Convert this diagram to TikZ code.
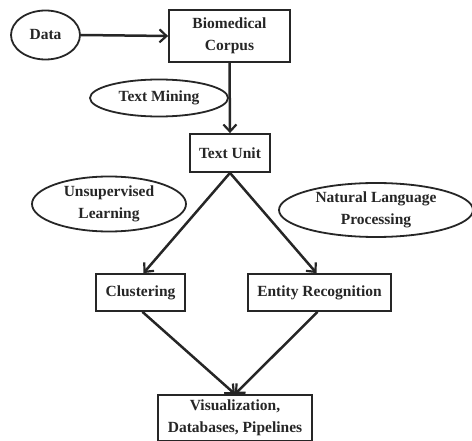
\documentclass[tikz,border=0pt]{standalone}
\usepackage{fontspec}
\setmainfont{Liberation Serif}
\usetikzlibrary{shapes.geometric,arrows.meta}
\begin{document}
\begin{tikzpicture}[x=1pt,y=1pt,
  every node/.style={font=\bfseries\fontsize{15.5}{21.5}\selectfont, text=black!85, align=center, inner sep=0pt},
  box/.style={draw=black!85, line width=1.8pt, rectangle},
  oval/.style={draw=black!85, line width=1.8pt, ellipse},
  arr/.style={draw=black!85, line width=2.5pt, -{Straight Barb[length=7pt,width=13pt,line width=2.2pt]}}]
\useasboundingbox (0,0) rectangle (472,440);
\node[oval, minimum width=69, minimum height=49] (data) at (45.5,405) {Data};
\node[box, minimum width=121, minimum height=52] (corpus) at (229.5,404) {Biomedical\\Corpus};
\node[oval, minimum width=138, minimum height=37] (tm) at (159,342) {Text Mining};
\node[box, minimum width=80, minimum height=38] (tu) at (230,287) {Text Unit};
\node[oval, minimum width=154, minimum height=55] (ul) at (109,236) {Unsupervised\\Learning};
\node[oval, minimum width=194, minimum height=54] (nlp) at (376,230) {Natural Language\\Processing};
\node[box, minimum width=89, minimum height=37] (cl) at (140.5,147.5) {Clustering};
\node[box, minimum width=143, minimum height=37] (er) at (319.5,147.5) {Entity Recognition};
\node[box, minimum width=154, minimum height=46] (vis) at (235,22) {Visualization,\\Databases, Pipelines};
\draw[arr] (data.east) -- (corpus.west);
\draw[arr] (corpus.south) -- (tu.north);
\draw[arr] (tu.south) -- ([xshift=3pt]cl.north);
\draw[arr] (tu.south) -- ([xshift=-3pt]er.north);
\draw[arr] ([xshift=2pt]cl.south) -- (vis.north);
\draw[arr] ([xshift=-2pt]er.south) -- (vis.north);
\end{tikzpicture}
\end{document}
